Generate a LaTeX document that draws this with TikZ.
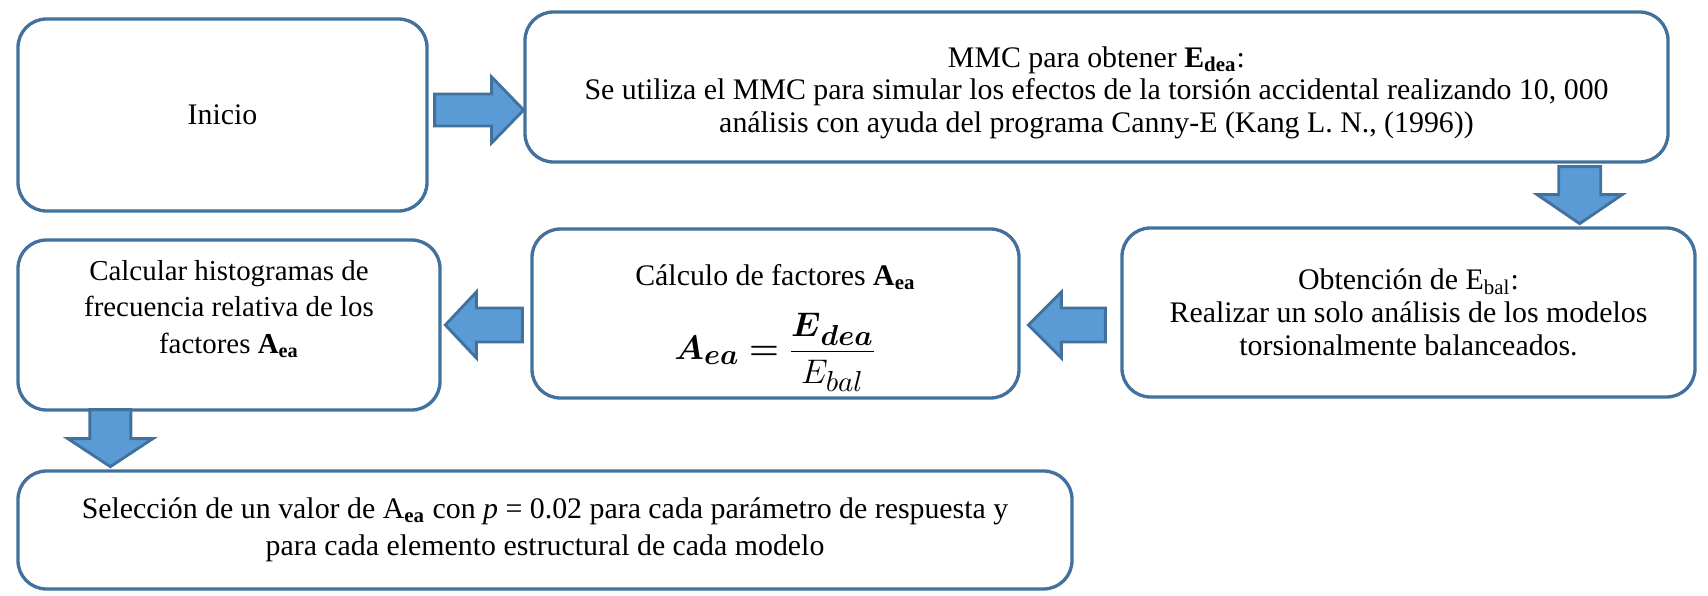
\documentclass[tikz,border=0pt]{standalone}
\usepackage{fontspec}
\setmainfont{Liberation Serif}
\usepackage{amsmath}
\usetikzlibrary{positioning,calc}
\definecolor{boxline}{HTML}{41719C}
\definecolor{arrowfill}{HTML}{5B9BD5}
\newcommand{\pxl}{0.422pt}
\newcommand{\eqsub}[1]{\scalebox{1.22}{$\scriptstyle\boldsymbol{#1}$}}
\newcommand{\eqsubr}[1]{\scalebox{1.22}{$\scriptstyle #1$}}
\tikzset{
  stepbox/.style={draw=boxline, line width=1.4pt, rounded corners=12pt, fill=white,
    align=center, inner sep=0pt, font=\fontsize{12.6}{13.8}\selectfont},
  blockarr/.style={draw=boxline, line width=1.2pt, fill=arrowfill, line join=miter},
}
% block arrow: tail point, angle, length, head length, shaft half width, head half width
\newcommand{\blockarrow}[6]{%
  \begin{scope}[shift={#1}, rotate=#2]
    \draw[blockarr] (0,-#5) -- ({#3-#4},-#5) -- ({#3-#4},-#6) -- (#3,0)
      -- ({#3-#4},#6) -- ({#3-#4},#5) -- (0,#5) -- cycle;
  \end{scope}}
\begin{document}
\begin{tikzpicture}[x=\pxl, y=-\pxl]
  \useasboundingbox (0,0) rectangle (1708,596);
  \node[stepbox, minimum width=409*\pxl, minimum height=192*\pxl] (inicio) at (222.5,115) {Inicio};
  \node[stepbox, minimum width=1143*\pxl, minimum height=150*\pxl] (mmc) at (1096.5,87)
    {\rule{0pt}{13.5pt}MMC para obtener \textbf{E}\textsubscript{\textbf{dea}}:\\
     Se utiliza el MMC para simular los efectos de la torsión accidental realizando 10, 000\\
     análisis con ayuda del programa Canny-E (Kang L. N., (1996))};
  \node[stepbox, minimum width=573*\pxl, minimum height=169*\pxl] (obtencion) at (1408.5,312.5)
    {Obtención de E\textsubscript{bal}:\\
     Realizar un solo análisis de los modelos\\
     torsionalmente balanceados.};
  \node[stepbox, minimum width=487*\pxl, minimum height=169*\pxl] (calculo) at (775.5,313.5)
    {\rule{0pt}{21pt}Cálculo de factores \textbf{A}\textsubscript{\textbf{ea}}\\[9pt]
     {\fontsize{14.4}{17}\selectfont$\boldsymbol{A}_{\eqsub{ea}}\mathrel{\boldsymbol{=}}
      \dfrac{\boldsymbol{E}_{\eqsub{dea}}}{E_{\eqsubr{bal}}}$}};
  \node[stepbox, minimum width=422*\pxl, minimum height=170*\pxl,
    font=\fontsize{12.2}{15.4}\selectfont] (histograma) at (229,325)
    {Calcular histogramas de\\
     frecuencia relativa de los\\
     factores \textbf{A}\textsubscript{\textbf{ea}}\rule[-15.4pt]{0pt}{15.4pt}};
  \node[stepbox, minimum width=1054*\pxl, minimum height=118*\pxl,
    font=\fontsize{12.6}{15.6}\selectfont] (seleccion) at (545,530)
    {Selección de un valor de A\textsubscript{\textbf{ea}} con \textit{p} = 0.02 para cada parámetro de respuesta y\\
     para cada elemento estructural de cada modelo};
  % block arrows between the steps
  \blockarrow{($(inicio.east)+(6,-5)$)}{0}{89}{32}{16}{33}
  \blockarrow{($(mmc.south east)+(-90,3)$)}{-90}{57}{29}{21}{42.5}
  \blockarrow{($(obtencion.west)+(-15,12.5)$)}{180}{77}{33}{17}{33}
  \blockarrow{($(calculo.west)+(-8,11.5)$)}{180}{77}{31}{17}{33}
  \blockarrow{($(histograma.south west)+(94,-2)$)}{-90}{57}{28}{20.5}{42.5}
\end{tikzpicture}
\end{document}
